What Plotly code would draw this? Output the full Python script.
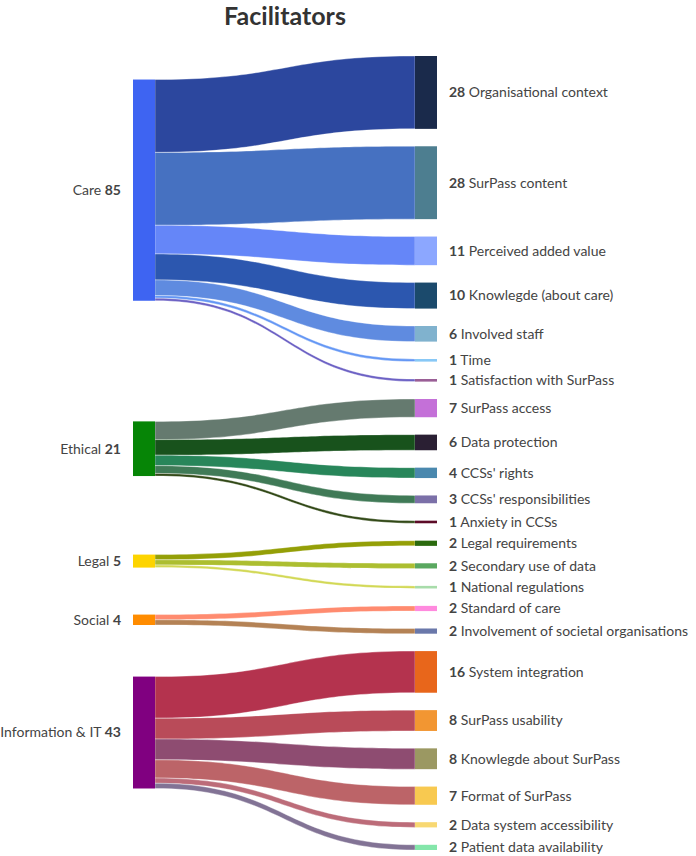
import plotly.graph_objects as go

# ---------------- data ----------------
categories = ["Care", "Ethical", "Legal", "Social", "Information & IT"]
category_colors = ["#3e64f2", "#068506", "#fdd400", "#ff8c00", "#800080"]

themes = [
    "Organisational context", "SurPass content", "Perceived added value",
    "Knowlegde (about care)", "Involved staff", "Time", "Satisfaction with SurPass",
    "SurPass access", "Data protection", "CCSs' rights", "CCSs' responsibilities",
    "Anxiety in CCSs",
    "Legal requirements", "Secondary use of data", "National regulations",
    "Standard of care", "Involvement of societal organisations",
    "System integration", "SurPass usability", "Knowlegde about SurPass",
    "Format of SurPass", "Data system accessibility", "Patient data availability",
]
theme_values = [28, 28, 11, 10, 6, 1, 1,
                7, 6, 4, 3, 1,
                2, 2, 1,
                2, 2,
                16, 8, 8, 7, 2, 2]
theme_category = [0, 0, 0, 0, 0, 0, 0,
                  1, 1, 1, 1, 1,
                  2, 2, 2,
                  3, 3,
                  4, 4, 4, 4, 4, 4]
theme_colors = ["#1a2a4b", "#4d7e90", "#8ca7ff", "#1b4a6c", "#80b2ce", "#88c8f6", "#9a5e96",
                "#c470d8", "#2a1f33", "#4a88ae", "#7b70a8", "#5c0b27",
                "#2b6a0e", "#5aa860", "#a8dcaa",
                "#ff8ade", "#6a78aa",
                "#e8661b", "#f29632", "#9b9862", "#f8c950", "#f8d872", "#84e6aa"]

# ---------------- layout parameters (pixels) ----------------
W_PX, H_PX = 696, 856
TOP_PX, BOTTOM_PX = 56, 850          # vertical extent of node columns
LEFT_CENTER_PX, RIGHT_CENTER_PX = 144, 426
DUMMY_LEFT_PX, DUMMY_RIGHT_PX = 4, 690
THICK = 22
PAD = 17.4
FONT = "Lato"
FONT_SIZE = 14

H = BOTTOM_PX - TOP_PX
total = sum(theme_values)
ky = (H - (len(themes) - 1) * PAD) / total

# theme node centres, stacked top to bottom
theme_centres = []
y = 0.0
for v in theme_values:
    h = v * ky
    theme_centres.append(y + h / 2)
    y += h + PAD

# category totals and centres (value weighted mean of their targets)
cat_totals = [0] * len(categories)
cat_weighted = [0.0] * len(categories)
for v, c, yc in zip(theme_values, theme_category, theme_centres):
    cat_totals[c] += v
    cat_weighted[c] += v * yc
cat_centres = [cat_weighted[i] / cat_totals[i] for i in range(len(categories))]


def hex_rgb(h):
    h = h.lstrip("#")
    return tuple(int(h[i:i + 2], 16) for i in (0, 2, 4))


def blend(a, b, t=0.5):
    ra, rb = hex_rgb(a), hex_rgb(b)
    return "rgb(%d,%d,%d)" % tuple(round(x + (y - x) * t) for x, y in zip(ra, rb))


CLEAR = "rgba(0,0,0,0)"
nC, nT = len(categories), len(themes)

# ---------------- main sankey (categories -> themes -> invisible sink) ----------------
node_labels = [""] * nC + ["<b>%d</b> %s" % (v, t) for v, t in zip(theme_values, themes)] + [""]
node_colors = category_colors + theme_colors + [CLEAR]
node_x = [LEFT_CENTER_PX / W_PX] * nC + [RIGHT_CENTER_PX / W_PX] * nT + [DUMMY_RIGHT_PX / W_PX]
node_y = [c / H for c in cat_centres] + [c / H for c in theme_centres] + [0.5]

src, tgt, val, lcol = [], [], [], []
for i, (v, c) in enumerate(zip(theme_values, theme_category)):
    src.append(c)
    tgt.append(nC + i)
    val.append(v)
    lcol.append(blend(category_colors[c], theme_colors[i], 0.5))
for i, v in enumerate(theme_values):
    src.append(nC + i)
    tgt.append(nC + nT)
    val.append(v)
    lcol.append(CLEAR)

domain = dict(x=[0, 1], y=[1 - BOTTOM_PX / H_PX, 1 - TOP_PX / H_PX])

main = go.Sankey(
    arrangement="fixed",
    domain=domain,
    hoverinfo="none",
    textfont=dict(family=FONT, size=FONT_SIZE, color="#444444"),
    node=dict(label=node_labels, color=node_colors, x=node_x, y=node_y,
              pad=PAD, thickness=THICK,
              line=dict(color=CLEAR, width=18)),
    link=dict(source=src, target=tgt, value=val, color=lcol,
              line=dict(color="rgba(255,255,255,0.6)", width=0.6)),
)

# ---------------- label carrier for the categories (labels on their left) ----------------
lab_labels = [""] + ["%s <b>%d</b>" % (c, t) for c, t in zip(categories, cat_totals)]
lab_x = [DUMMY_LEFT_PX / W_PX] + [LEFT_CENTER_PX / W_PX] * nC
lab_y = [0.5] + [c / H for c in cat_centres]
labels_trace = go.Sankey(
    arrangement="fixed",
    domain=domain,
    hoverinfo="none",
    textfont=dict(family=FONT, size=FONT_SIZE, color="#444444"),
    node=dict(label=lab_labels, color=[CLEAR] * (nC + 1), x=lab_x, y=lab_y,
              pad=PAD, thickness=THICK,
              line=dict(color=CLEAR, width=18)),
    link=dict(source=[0] * nC, target=list(range(1, nC + 1)), value=cat_totals,
              color=[CLEAR] * nC, line=dict(color=CLEAR, width=0)),
)

fig = go.Figure([main, labels_trace])
fig.update_layout(
    width=W_PX, height=H_PX,
    margin=dict(l=0, r=0, t=0, b=0),
    paper_bgcolor="white",
    title=dict(text="<b>Facilitators</b>", x=(LEFT_CENTER_PX + RIGHT_CENTER_PX) / 2 / W_PX,
               xanchor="center", y=1 - 16 / H_PX, yanchor="middle",
               font=dict(family=FONT, size=25, color="#333333")),
)
fig.write_html("out.html",
               config={"displayModeBar": False},
               post_script="document.body.style.margin='0';document.body.style.overflow='hidden';")
